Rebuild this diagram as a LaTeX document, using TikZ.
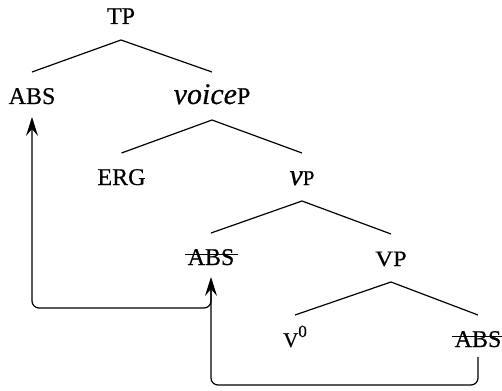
\documentclass[tikz,border=0pt]{standalone}
\usepackage{fontspec}
\setmainfont{Liberation Serif}
\usetikzlibrary{calc,arrows.meta}
\newcommand\capsz[1]{{\fontsize{24}{26}\selectfont\addfontfeature{FakeBold=0.5}#1}}
\newcommand\itsz[1]{{\fontsize{30}{32}\selectfont\itshape\addfontfeature{FakeBold=0.5}#1}}
\begin{document}
\begin{tikzpicture}[x=1pt,y=-1pt,
  lbl/.style={inner sep=0pt,anchor=base},
  branch/.style={line width=1.2pt},
  move/.style={line width=1.2pt,rounded corners=7pt,-{Stealth[length=19pt,width=12pt,inset=7pt]}},
  struck/.style={line width=0.9pt}]
\useasboundingbox (0,0) rectangle (502,390);
\node[lbl] (TP) at (121,24) {\capsz{TP}};
\node[lbl] (ABSa) at (32,104) {\capsz{ABS}};
\node[lbl] (voiceP) at (212,104) {\itsz{voice}\capsz{P}};
\node[lbl] (ERG) at (121.5,185) {\capsz{ERG}};
\node[lbl] (vP) at (302,185) {\itsz{v}{\fontsize{21}{24}\selectfont\addfontfeature{FakeBold=0.5}P}};
\node[lbl] (ABSb) at (211,265) {\capsz{ABS}};
\node[lbl] (VP) at (391,266) {{\fontsize{22}{24}\selectfont\addfontfeature{FakeBold=0.5}\scalebox{1.12}[1]{VP}}};
\node[lbl] (V0) at (295,347) {{\fontsize{21}{22}\selectfont\addfontfeature{FakeBold=0.5}V\raisebox{10pt}{\fontsize{17}{17}\selectfont 0}}};
\node[lbl] (ABSc) at (478,347) {\capsz{ABS}};
% tree branches
\foreach \p/\l/\r in {TP/ABSa/voiceP, voiceP/ERG/vP, vP/ABSb/VP, VP/V0/ABSc}{
  \draw[branch] ($(\l.base)+(0,-32)$) -- ($(\p.base)+(0,16)$) -- ($(\r.base)+(0,-32)$);
}
% strike-throughs
\draw[struck] ($(ABSb.base west)+(-2,-11)$) -- ($(ABSb.base east)+(3,-11)$);
\draw[struck] ($(ABSc.base west)+(-2,-11)$) -- ($(ABSc.base east)+(3,-11)$);
% movement arrows
\coordinate (c1) at ($(ABSc.base)+(0,10)$);
\coordinate (c2) at ($(ABSb.base)+(0,25)$);
\draw[move] (c1) -- (c1 |- 0,385) -- (ABSb.base |- 0,385) -- ($(ABSb.base)+(0,12)$);
\draw[move] (c2) -- (c2 |- 0,308) -- (ABSa.base |- 0,308) -- ($(ABSa.base)+(0,13)$);
\end{tikzpicture}
\end{document}
